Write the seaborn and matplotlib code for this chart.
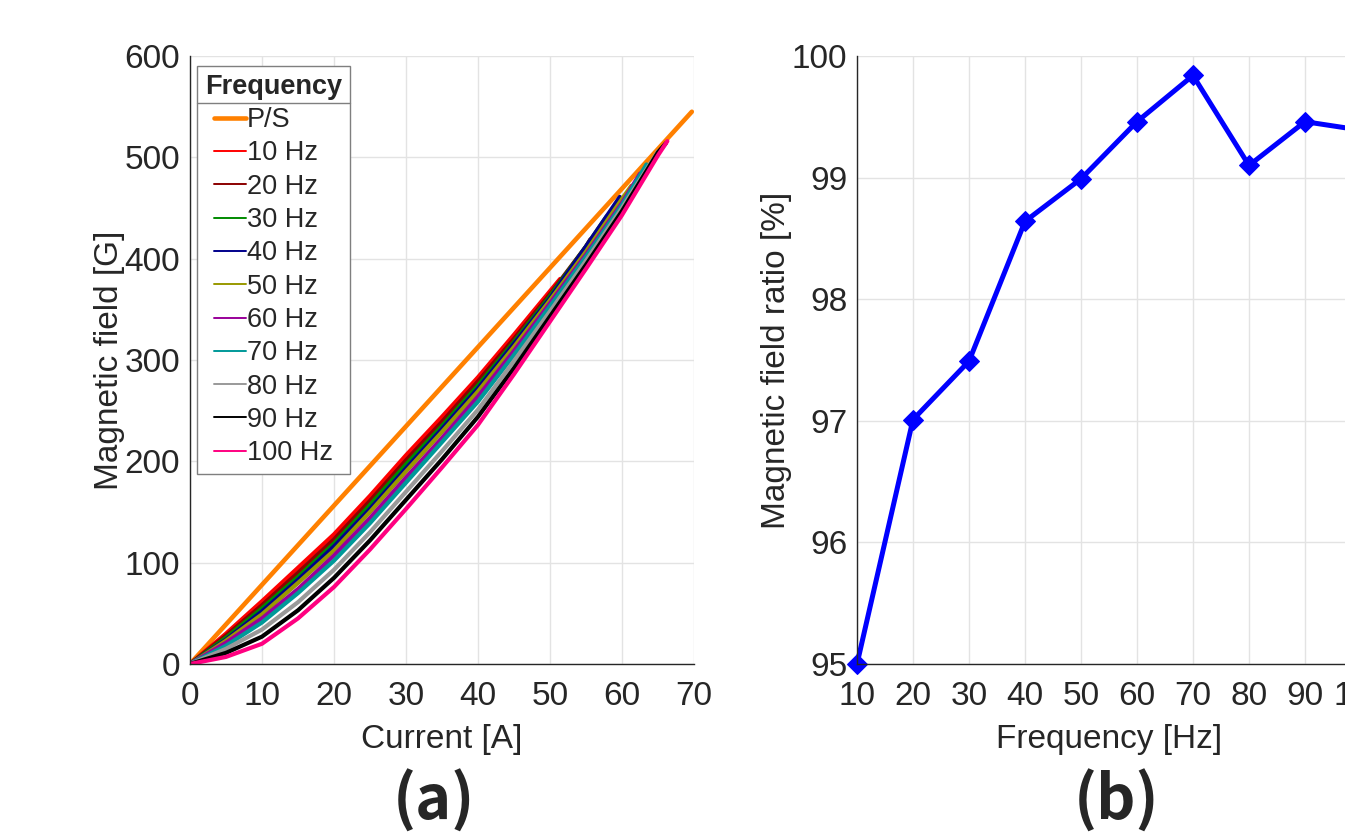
import matplotlib
matplotlib.use("Agg")
import matplotlib.pyplot as plt
from matplotlib.lines import Line2D
import pandas as pd
import seaborn as sns

# ---------------------------------------------------------------
# data
# ---------------------------------------------------------------
PS_CURRENT = [0, 69.7]
PS_FIELD = [0, 545]

CURRENT_10 = [0, 5, 10, 15, 20, 25, 30, 35, 40, 45, 50, 51.4]
FIELD_10 = [0, 30, 62, 95, 128, 166, 206, 244, 283, 325, 368, 380]

CURRENT_20 = [0, 5, 10, 15, 20, 25, 30, 35, 40, 45, 50, 55, 55.6]
FIELD_20 = [0, 28, 58, 90, 123, 161, 201, 239, 279, 321, 365, 412, 419]

CURRENT_30 = [0, 5, 10, 15, 20, 25, 30, 35, 40, 45, 50, 55, 57.9]
FIELD_30 = [0, 26, 55, 86, 119, 157, 197, 235, 275, 318, 363, 412, 442]

CURRENT_40 = [0, 5, 10, 15, 20, 25, 30, 35, 40, 45, 50, 55, 59.7]
FIELD_40 = [0, 24, 52, 83, 116, 153, 193, 232, 272, 316, 361, 412, 461]

CURRENT_50 = [0, 5, 10, 15, 20, 25, 30, 35, 40, 45, 50, 55, 60, 61.3]
FIELD_50 = [0, 23, 49, 80, 112, 150, 190, 229, 269, 313, 359, 407, 459, 472]

CURRENT_60 = [0, 5, 10, 15, 20, 25, 30, 35, 40, 45, 50, 55, 60, 62.5]
FIELD_60 = [0, 21, 45, 74, 107, 144, 184, 223, 264, 309, 356, 404, 455, 484]

CURRENT_70 = [0, 5, 10, 15, 20, 25, 30, 35, 40, 45, 50, 55, 60, 63.4]
FIELD_70 = [0, 18, 41, 70, 102, 139, 179, 219, 259, 305, 353, 402, 453, 493]

CURRENT_80 = [0, 5, 10, 15, 20, 25, 30, 35, 40, 45, 50, 55, 60, 65.0]
FIELD_80 = [0, 15, 34, 61, 93, 130, 170, 210, 251, 299, 348, 398, 450, 506]

CURRENT_90 = [0, 5, 10, 15, 20, 25, 30, 35, 40, 45, 50, 55, 60, 65, 66.1]
FIELD_90 = [0, 11, 27, 53, 85, 122, 162, 202, 244, 292, 343, 394, 447, 505, 514]

CURRENT_100 = [0, 5, 10, 15, 20, 25, 30, 35, 40, 45, 50, 55, 60, 65, 66.3]
FIELD_100 = [0, 7, 20, 45, 76, 113, 153, 194, 236, 286, 338, 390, 443, 502, 516]

FREQ_LABELS = ["10 Hz", "20 Hz", "30 Hz", "40 Hz", "50 Hz",
               "60 Hz", "70 Hz", "80 Hz", "90 Hz", "100 Hz"]
FREQ_COLORS = ["#ff0000", "#8b0000", "#008a00", "#00008b", "#999900",
               "#990099", "#009999", "#999999", "#000000", "#ff0080"]
PS_COLOR = "#ff8000"

FREQUENCY = [10, 20, 30, 40, 50, 60, 70, 80, 90, 100]
FIELD_RATIO = [95.0, 97.01, 97.49, 98.64, 98.99, 99.46, 99.84, 99.10, 99.46, 99.39]

# ---------------------------------------------------------------
sns.set_style("white")
plt.rcParams["font.family"] = ["Liberation Sans", "DejaVu Sans"]

currents = [CURRENT_10, CURRENT_20, CURRENT_30, CURRENT_40, CURRENT_50,
            CURRENT_60, CURRENT_70, CURRENT_80, CURRENT_90, CURRENT_100]
fields = [FIELD_10, FIELD_20, FIELD_30, FIELD_40, FIELD_50,
          FIELD_60, FIELD_70, FIELD_80, FIELD_90, FIELD_100]

frames = []
for lab, cur, fld in zip(FREQ_LABELS, currents, fields):
    frames.append(pd.DataFrame({"Current": cur, "Field": fld, "Frequency": lab}))
curves = pd.concat(frames, ignore_index=True)

TEXT_C = "#262626"
W, H = 1345, 834
fig = plt.figure(figsize=(W / 100, H / 100), dpi=100)
ax_a = fig.add_axes([190 / W, 1 - 664 / H, 504 / W, 608 / H])
ax_b = fig.add_axes([857 / W, 1 - 664 / H, 504 / W, 608 / H])


def style_axis(ax):
    ax.grid(True, color="#e3e3e3", linewidth=1)
    ax.set_axisbelow(True)
    for side in ["top", "right"]:
        ax.spines[side].set_visible(False)
    for side in ["left", "bottom"]:
        ax.spines[side].set_color(TEXT_C)
        ax.spines[side].set_linewidth(1.0)
    ax.tick_params(direction="in", length=5, width=0.8, colors=TEXT_C,
                   labelsize=24, pad=7)
    ax.tick_params(axis="x", pad=12)


# (a) magnetic field vs current
sns.lineplot(x=PS_CURRENT, y=PS_FIELD, color=PS_COLOR, linewidth=3.3, ax=ax_a)
sns.lineplot(data=curves, x="Current", y="Field", hue="Frequency",
             palette=dict(zip(FREQ_LABELS, FREQ_COLORS)), linewidth=3.0,
             sort=False, legend=False, ax=ax_a)
ax_a.set_xlim(0, 70)
ax_a.set_ylim(0, 600)
ax_a.set_xticks(range(0, 71, 10))
ax_a.set_yticks(range(0, 601, 100))
style_axis(ax_a)
ax_a.set_xlabel("Current [A]", fontsize=24, color=TEXT_C, labelpad=9)
ax_a.set_ylabel("Magnetic field [G]", fontsize=24, color=TEXT_C, labelpad=0)

handles = [Line2D([], [], color=PS_COLOR, linewidth=3.3, label="P/S")]
handles += [Line2D([], [], color=c, linewidth=1.4, label=l)
            for c, l in zip(FREQ_COLORS, FREQ_LABELS)]
leg = ax_a.legend(handles=handles, title="Frequency", loc="upper left",
                  bbox_to_anchor=(0.014, 0.984), borderaxespad=0,
                  fancybox=False, edgecolor="#7f7f7f", framealpha=1,
                  fontsize=19.5, handlelength=1.15, handletextpad=0.05,
                  labelspacing=0.27, borderpad=0.3,
                  title_fontproperties={"weight": "bold", "size": 19.5})
leg.get_frame().set_linewidth(1.0)

# (b) magnetic field ratio vs frequency
sns.lineplot(x=FREQUENCY, y=FIELD_RATIO, color="#0000ff", linewidth=3.6,
             marker="D", markersize=10, markeredgecolor="#0000ff", ax=ax_b)
for line in ax_b.lines:
    line.set_clip_on(False)
ax_b.set_xlim(10, 100)
ax_b.set_ylim(95, 100)
ax_b.set_xticks(FREQUENCY)
ax_b.set_yticks(range(95, 101))
style_axis(ax_b)
ax_b.set_xlabel("Frequency [Hz]", fontsize=24, color=TEXT_C, labelpad=9)
ax_b.set_ylabel("Magnetic field ratio [%]", fontsize=24, color=TEXT_C, labelpad=0)

fig.text(434 / W, 1 - 801 / H, "(a)", fontsize=44, fontweight="bold",
         family=["Noto Sans CJK KR", "DejaVu Sans"], ha="center", va="center")
fig.text(1117 / W, 1 - 801 / H, "(b)", fontsize=44, fontweight="bold",
         family=["Noto Sans CJK KR", "DejaVu Sans"], ha="center", va="center")

# separator line under the legend title, as in the original legend box
fig.canvas.draw()
lb = leg.get_window_extent()
tb = leg.get_title().get_window_extent()
y_sep = tb.y0 - 3
inv = fig.transFigure.inverted()
(x0, y0), (x1, _) = inv.transform([(lb.x0, y_sep), (lb.x1, y_sep)])
fig.add_artist(Line2D([x0, x1], [y0, y0], transform=fig.transFigure,
                      color="#7f7f7f", linewidth=1.0))

fig.savefig("out.png", dpi=100)
